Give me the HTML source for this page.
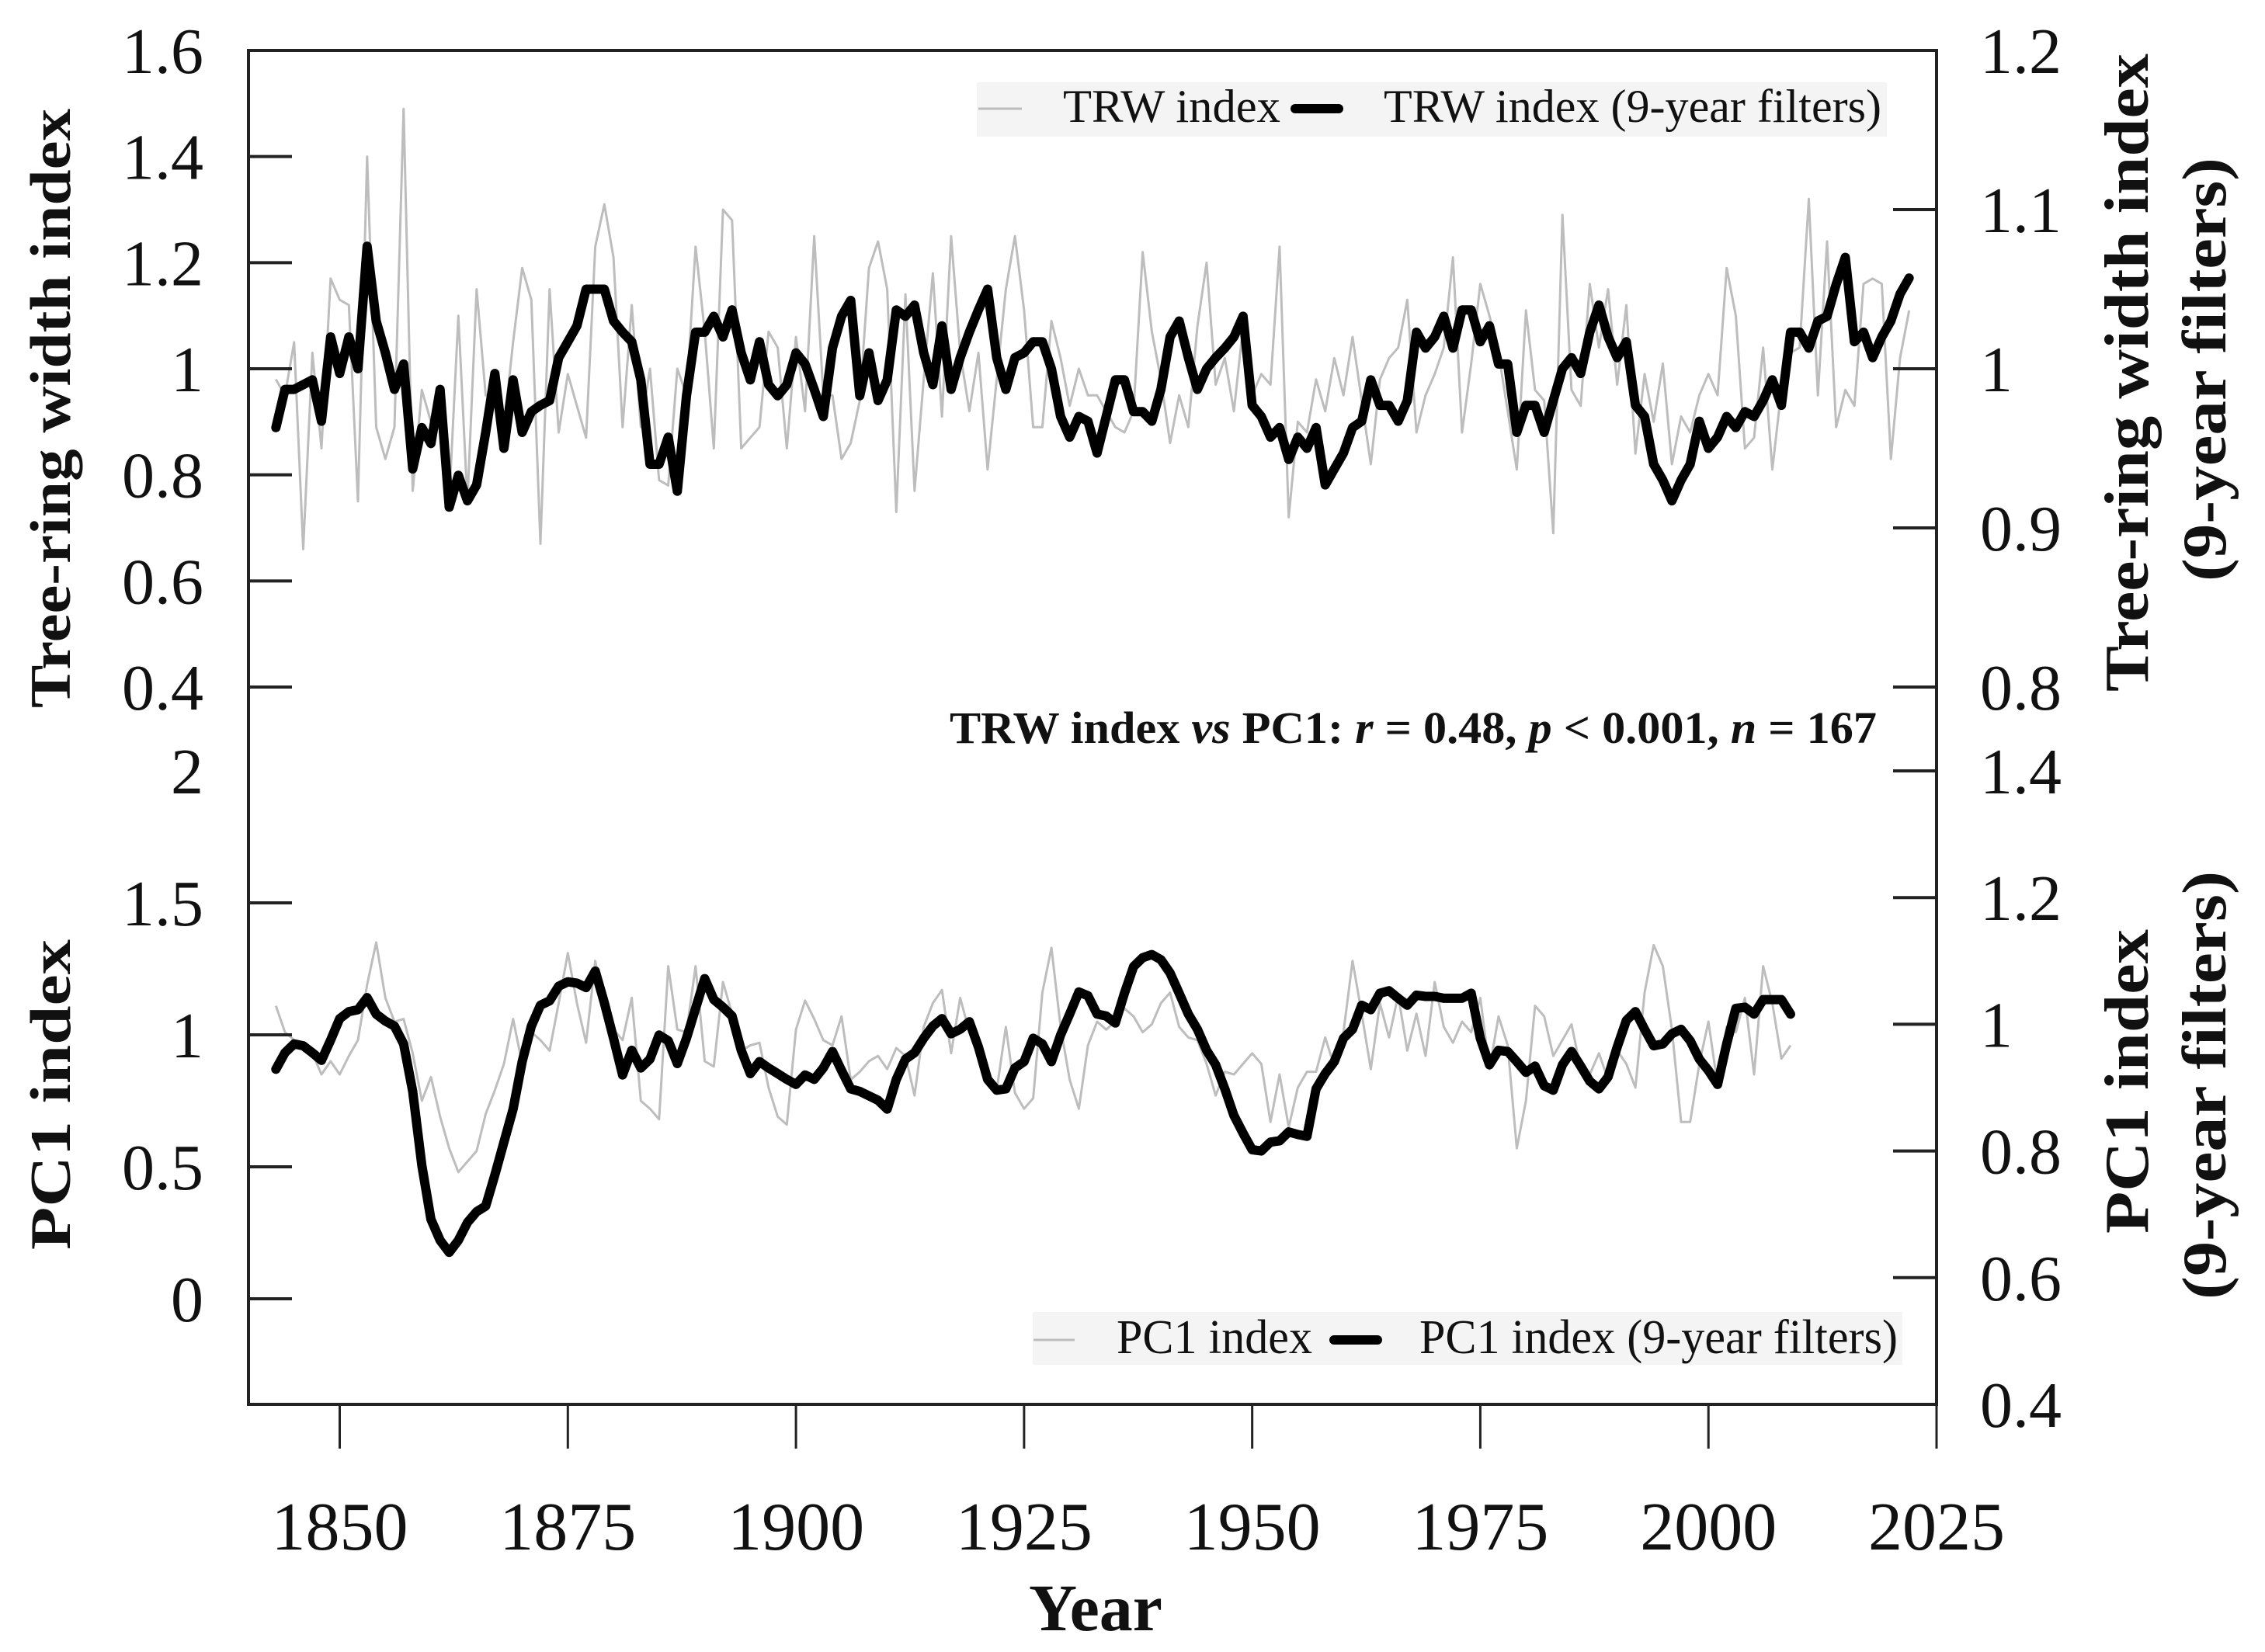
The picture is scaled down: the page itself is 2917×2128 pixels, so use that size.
<!DOCTYPE html>
<html><head><meta charset="utf-8"><title>TRW index and PC1 index</title>
<style>
html,body{margin:0;padding:0;background:#fff;}
svg{display:block;}
text{font-family:"Liberation Serif",serif;fill:#111;}
</style></head>
<body>
<svg id="chart" xmlns="http://www.w3.org/2000/svg" width="2917" height="2128" viewBox="0 0 2917 2128">
<rect x="0" y="0" width="2917" height="2128" fill="#fff"/>
<g id="marks"></g>
<g id="axes"></g>
</svg>
<script>
// ---------- data ----------
const trwStartYear = 1843;
const trwRaw = [0.98,0.95,1.05,0.66,1.03,0.85,1.17,1.13,1.12,0.75,1.40,0.89,0.83,0.89,1.49,0.77,0.96,0.90,0.95,0.75,
1.10,0.75,1.15,0.95,0.95,0.89,1.05,1.19,1.13,0.67,1.15,0.88,0.99,0.93,0.87,1.23,1.31,1.21,0.89,1.12,
0.89,1.00,0.79,0.78,1.00,0.95,1.23,1.07,0.85,1.30,1.28,0.85,0.87,0.89,1.07,1.04,0.85,1.06,0.92,1.25,
0.95,0.95,0.83,0.86,0.94,1.19,1.24,1.15,0.73,1.14,0.77,0.98,1.18,0.91,1.25,1.03,0.92,1.03,0.81,0.98,
1.15,1.25,1.11,0.89,0.89,1.09,1.02,0.93,1.00,0.95,0.95,0.92,0.89,0.88,0.92,1.22,1.07,0.98,0.86,0.95,
0.89,1.08,1.20,0.97,1.02,0.92,1.08,0.95,0.99,0.97,1.23,0.72,0.90,0.88,0.98,0.92,1.02,0.95,1.06,0.94,
0.82,0.98,1.02,1.04,1.13,0.88,0.95,0.99,1.04,1.21,0.88,1.01,1.16,1.10,1.03,0.92,0.81,1.11,0.96,0.94,
0.69,1.29,0.96,0.93,1.16,1.04,1.15,0.97,1.12,0.84,0.99,0.90,1.01,0.82,0.91,0.88,0.95,0.99,0.95,1.19,
1.10,0.85,0.87,1.04,0.81,0.96,1.03,1.04,1.32,0.95,1.24,0.89,0.96,0.93,1.16,1.17,1.16,0.83,1.02,1.11];
const trwFiltered = [0.963,0.987,0.987,0.990,0.993,0.967,1.020,0.997,1.020,1.000,1.077,1.030,1.010,0.987,1.003,0.937,0.963,0.953,0.987,0.913,
0.933,0.917,0.927,0.960,0.997,0.950,0.993,0.960,0.973,0.977,0.980,1.007,1.017,1.027,1.050,1.050,1.050,1.030,1.023,1.017,
0.993,0.940,0.940,0.957,0.923,0.983,1.023,1.023,1.033,1.020,1.037,1.010,0.993,1.017,0.990,0.983,0.990,1.010,1.003,0.987,
0.970,1.013,1.033,1.043,0.983,1.010,0.980,0.993,1.037,1.033,1.040,1.010,0.990,1.027,0.987,1.007,1.023,1.037,1.050,1.007,
0.987,1.007,1.010,1.017,1.017,1.000,0.970,0.957,0.970,0.967,0.947,0.970,0.993,0.993,0.973,0.973,0.967,0.987,1.020,1.030,
1.007,0.987,1.000,1.007,1.013,1.020,1.033,0.977,0.970,0.957,0.963,0.943,0.957,0.950,0.963,0.927,0.937,0.947,0.963,0.967,
0.993,0.977,0.977,0.967,0.980,1.023,1.013,1.020,1.033,1.013,1.037,1.037,1.017,1.027,1.003,1.003,0.960,0.977,0.977,0.960,
0.980,1.000,1.007,0.997,1.023,1.040,1.020,1.007,1.017,0.977,0.970,0.940,0.930,0.917,0.930,0.940,0.967,0.950,0.957,0.970,
0.963,0.973,0.970,0.980,0.993,0.977,1.023,1.023,1.013,1.030,1.033,1.053,1.070,1.017,1.023,1.007,1.020,1.030,1.047,1.057];
const pcStartYear = 1843;
const pcRaw = [1.11,1.01,0.98,0.96,0.93,0.85,0.90,0.85,0.92,0.98,1.19,1.35,1.14,1.05,1.06,0.93,0.75,0.84,0.69,0.57,
0.48,0.52,0.56,0.70,0.79,0.89,1.06,0.89,1.01,0.98,0.94,1.12,1.31,1.12,0.97,1.28,1.10,1.02,0.98,1.14,
0.75,0.72,0.68,1.26,1.02,1.01,1.26,0.90,0.88,1.20,1.08,0.94,0.96,0.97,0.80,0.69,0.66,1.02,1.13,1.06,
0.98,0.96,1.07,0.83,0.86,0.90,0.92,0.87,0.95,0.92,0.77,1.03,1.12,1.17,0.93,1.14,1.01,0.94,0.83,0.79,
1.03,0.78,0.72,0.76,1.16,1.33,1.03,0.83,0.72,0.96,1.05,1.02,1.05,1.10,1.07,1.01,1.04,1.12,1.16,1.03,
0.99,0.98,0.89,0.77,0.86,0.85,0.89,0.93,0.89,0.67,0.85,0.65,0.80,0.86,0.86,0.99,0.88,1.01,1.28,1.08,
0.87,1.12,0.99,1.15,0.94,1.08,0.92,1.20,1.03,0.97,1.05,1.01,1.14,0.87,1.07,0.96,0.57,0.75,1.11,1.07,
0.92,0.98,1.04,0.87,0.85,0.93,0.83,0.94,0.89,0.80,1.16,1.34,1.26,1.02,0.67,0.67,0.89,1.05,0.81,1.03,
1.01,1.14,0.85,1.26,1.12,0.91,0.96];
const pcFiltered = [0.929,0.955,0.969,0.966,0.955,0.943,0.975,1.009,1.020,1.023,1.042,1.016,1.005,0.997,0.969,0.894,0.777,0.692,0.659,0.640,
0.659,0.687,0.704,0.713,0.762,0.814,0.866,0.941,0.997,1.030,1.037,1.060,1.067,1.065,1.058,1.084,1.034,0.978,0.920,0.959,
0.931,0.945,0.983,0.974,0.938,0.978,1.025,1.072,1.039,1.027,1.013,0.959,0.922,0.941,0.931,0.922,0.913,0.905,0.920,0.913,
0.931,0.957,0.927,0.898,0.894,0.887,0.880,0.866,0.913,0.945,0.955,0.978,0.997,1.009,0.985,0.992,1.004,0.964,0.913,0.896,
0.898,0.931,0.941,0.978,0.969,0.941,0.983,1.016,1.051,1.045,1.016,1.013,1.002,1.049,1.091,1.105,1.110,1.102,1.081,1.049,
1.016,0.992,0.959,0.936,0.898,0.856,0.828,0.802,0.800,0.814,0.816,0.830,0.826,0.823,0.898,0.922,0.941,0.978,0.992,1.030,
1.023,1.049,1.053,1.041,1.030,1.046,1.044,1.044,1.041,1.041,1.041,1.049,0.978,0.936,0.959,0.957,0.941,0.924,0.934,0.903,
0.896,0.936,0.957,0.934,0.910,0.898,0.917,0.964,1.006,1.020,0.992,0.966,0.969,0.985,0.992,0.974,0.945,0.927,0.905,0.969,
1.025,1.027,1.016,1.039,1.039,1.039,1.016];
const xTicks = [1850,1875,1900,1925,1950,1975,2000,2025];
const topLeftTicks = [1.6,1.4,1.2,1.0,0.8,0.6,0.4];
const topLeftLabels = ["1.6","1.4","1.2","1","0.8","0.6","0.4"];
const topRightTicks = [1.2,1.1,1.0,0.9,0.8];
const topRightLabels = ["1.2","1.1","1","0.9","0.8"];
const botLeftTicks = [2,1.5,1,0.5,0];
const botLeftLabels = ["2","1.5","1","0.5","0"];
const botRightTicks = [1.4,1.2,1.0,0.8,0.6,0.4];
const botRightLabels = ["1.4","1.2","1","0.8","0.6","0.4"];

// ---------- scales ----------
const X0 = 320, X1 = 2494;
const xS = y => X0 + (y - 1840) / (2025 - 1840) * (X1 - X0);
const yTL = v => 65 + (1.6 - v) / 1.2 * 820;
const yTR = v => 65 + (1.2 - v) / 0.4 * 820;
const yBL = v => 993 + (2 - v) / 2.4 * 816;
const yBR = v => 993 + (1.4 - v) / 1.0 * 816;

const NS = "http://www.w3.org/2000/svg";
const marks = document.getElementById("marks");
const axes = document.getElementById("axes");
function mk(tag, attrs, parent) {
  const e = document.createElementNS(NS, tag);
  for (const k in attrs) e.setAttribute(k, attrs[k]);
  parent.appendChild(e);
  return e;
}
function pathFrom(arr, start, ys) {
  return arr.map((v, i) => (i ? "L" : "M") + xS(start + i).toFixed(1) + "," + ys(v).toFixed(1)).join(" ");
}

// ---------- legends background ----------
let e;
e = mk("rect", {x:1258, y:106, width:1172, height:70, fill:"#f4f4f4"}, marks);


e = mk("rect", {x:1330, y:1690, width:1120, height:68, fill:"#f4f4f4"}, marks);



// ---------- series ----------
e = mk("path", {d: pathFrom(trwRaw, trwStartYear, yTL), fill:"none", stroke:"#bdbdbd", "stroke-width":3, "stroke-linejoin":"round"}, marks);


e = mk("path", {d: pathFrom(trwFiltered, trwStartYear, yTR), fill:"none", stroke:"#000", "stroke-width":12, "stroke-linejoin":"round", "stroke-linecap":"round"}, marks);


e = mk("path", {d: pathFrom(pcRaw, pcStartYear, yBL), fill:"none", stroke:"#bdbdbd", "stroke-width":3, "stroke-linejoin":"round"}, marks);


e = mk("path", {d: pathFrom(pcFiltered, pcStartYear, yBR), fill:"none", stroke:"#000", "stroke-width":12, "stroke-linejoin":"round", "stroke-linecap":"round"}, marks);



// ---------- axes frame ----------
const AX = "#222";
e = mk("line", {x1:X0, y1:65, x2:X1, y2:65, stroke:AX, "stroke-width":4}, axes);


e = mk("line", {x1:X0, y1:63, x2:X0, y2:1811, stroke:AX, "stroke-width":4}, axes);


e = mk("line", {x1:X1, y1:63, x2:X1, y2:1811, stroke:AX, "stroke-width":4}, axes);


e = mk("line", {x1:X0, y1:1809, x2:X1, y2:1809, stroke:AX, "stroke-width":4}, axes);



// x ticks
xTicks.forEach(t => {
  const x = xS(t);
  let l = mk("line", {x1:x, y1:1809, x2:x, y2:1866, stroke:AX, "stroke-width":3}, axes);
  
  
  let tx = mk("text", {x:x, y:1996, "font-size":88, "text-anchor":"middle"}, axes);
  tx.textContent = String(t);
  
  
});

function leftTicks(vals, labels, ys, drawTickFn) {
  vals.forEach((v, i) => {
    const y = ys(v);
    if (drawTickFn(v)) {
      let l = mk("line", {x1:X0, y1:y, x2:X0 + 56, y2:y, stroke:AX, "stroke-width":4}, axes);
      
      
    }
    let tx = mk("text", {x:262, y:y + 29, "font-size":84, "text-anchor":"end"}, axes);
    tx.textContent = labels[i];
    
    
  });
}
function rightTicks(vals, labels, ys, drawTickFn) {
  vals.forEach((v, i) => {
    const y = ys(v);
    if (drawTickFn(v)) {
      let l = mk("line", {x1:X1 - 56, y1:y, x2:X1, y2:y, stroke:AX, "stroke-width":4}, axes);
      
      
    }
    let tx = mk("text", {x:2550, y:y + 29, "font-size":84, "text-anchor":"start"}, axes);
    tx.textContent = labels[i];
    
    
  });
}
leftTicks(topLeftTicks, topLeftLabels, yTL, v => v < 1.55);
rightTicks(topRightTicks, topRightLabels, yTR, v => v < 1.15);
leftTicks(botLeftTicks, botLeftLabels, yBL, v => v < 1.95);
rightTicks(botRightTicks, botRightLabels, yBR, v => v > 0.45);

// ---------- titles ----------
function vtext(txt, cx, cy, len, size, name, bold) {
  const t = mk("text", {x:0, y:0, "font-size":size, "font-weight": bold ? "bold" : "normal", "text-anchor":"middle",
    textLength:len, lengthAdjust:"spacingAndGlyphs", transform:"translate(" + cx + "," + cy + ") rotate(-90)"}, axes);
  t.textContent = txt;
  return t;
}
e = vtext("Tree-ring width index", 90, 526, 772, 74, "", true);


e = vtext("PC1 index", 90, 1410, 400, 74, "", true);


e = vtext("Tree-ring width index", 2766, 480, 822, 80, "", true);


e = vtext("(9-year filters)", 2866, 476, 546, 80, "", true);


e = vtext("PC1 index", 2766, 1393, 392, 80, "", true);


e = vtext("(9-year filters)", 2866, 1398, 552, 80, "", true);



e = mk("text", {x:1411, y:2100, "font-size":86, "font-weight":"bold", "text-anchor":"middle"}, axes);
e.textContent = "Year";



// ---------- annotation ----------
e = mk("text", {x:1223, y:957, "font-size":58, "font-weight":"bold", textLength:1194, lengthAdjust:"spacingAndGlyphs"}, axes);
e.innerHTML = 'TRW index <tspan font-style="italic">vs</tspan> PC1: <tspan font-style="italic">r</tspan> = 0.48, <tspan font-style="italic">p</tspan> &lt; 0.001, <tspan font-style="italic">n</tspan> = 167';



// ---------- legends ----------
e = mk("line", {x1:1260, y1:140, x2:1316, y2:140, stroke:"#bdbdbd", "stroke-width":3}, axes);


e = mk("text", {x:1369, y:157, "font-size":60, textLength:280, lengthAdjust:"spacingAndGlyphs"}, axes);
e.textContent = "TRW index";


e = mk("line", {x1:1668, y1:140, x2:1724, y2:140, stroke:"#000", "stroke-width":12, "stroke-linecap":"round"}, axes);


e = mk("text", {x:1782, y:157, "font-size":60, textLength:641, lengthAdjust:"spacingAndGlyphs"}, axes);
e.textContent = "TRW index (9-year filters)";



e = mk("line", {x1:1331, y1:1726, x2:1384, y2:1726, stroke:"#bdbdbd", "stroke-width":3}, axes);


e = mk("text", {x:1438, y:1743, "font-size":62, textLength:252, lengthAdjust:"spacingAndGlyphs"}, axes);
e.textContent = "PC1 index";


e = mk("line", {x1:1718, y1:1726, x2:1774, y2:1726, stroke:"#000", "stroke-width":12, "stroke-linecap":"round"}, axes);


e = mk("text", {x:1828, y:1743, "font-size":62, textLength:616, lengthAdjust:"spacingAndGlyphs"}, axes);
e.textContent = "PC1 index (9-year filters)";


</script>
</body></html>
